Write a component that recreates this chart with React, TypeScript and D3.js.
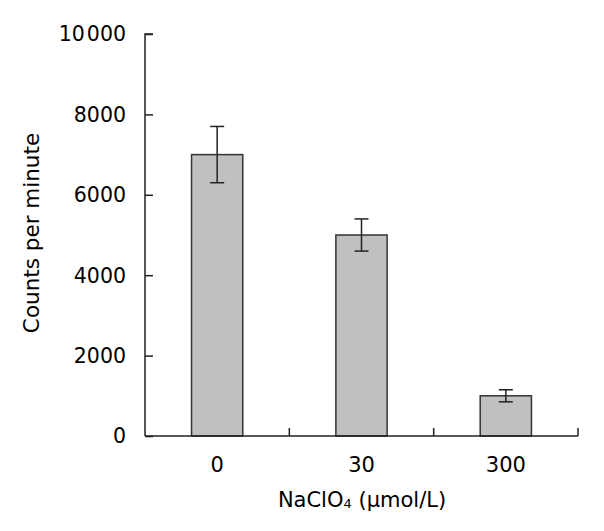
import React, { useRef, useEffect } from 'react';
import * as d3 from 'd3';

const categories = ['0', '30', '300'];
const counts = [7000, 5000, 1000];
const errors = [700, 400, 150];
const yTicks = [0, 2000, 4000, 6000, 8000, 10000];

const W = 604;
const H = 531;
const margin = { top: 34, right: 26, bottom: 95, left: 145 };
const font = '"DejaVu Sans", Tahoma, sans-serif';

export default function App() {
  const ref = useRef<SVGSVGElement>(null);

  useEffect(() => {
    const svg = d3.select(ref.current);
    svg.selectAll('*').remove();
    const iw = W - margin.left - margin.right;
    const ih = H - margin.top - margin.bottom;
    const g = svg.append('g').attr('transform', `translate(${margin.left},${margin.top})`);

    // scales
    const x = d3.scaleBand().domain(categories).range([0, iw]).paddingInner(0.645).paddingOuter(0.3225);
    const y = d3.scaleLinear().domain([0, 10000]).range([ih, 0]);

    // bars
    g.append('g')
      .selectAll('rect')
      .data(counts)
      .join('rect')
      .attr('x', (d, i) => x(categories[i])!)
      .attr('y', d => y(d))
      .attr('width', x.bandwidth())
      .attr('height', d => y(0) - y(d))
      .attr('fill', '#c0c0c0')
      .attr('stroke', '#333')
      .attr('stroke-width', 1.5);

    // error bars
    const eb = g.append('g').attr('stroke', '#222').attr('stroke-width', 1.5);
    counts.forEach((d, i) => {
      const cx = x(categories[i])! + x.bandwidth() / 2;
      eb.append('line').attr('x1', cx).attr('x2', cx).attr('y1', y(d + errors[i])).attr('y2', y(d - errors[i]));
      [d + errors[i], d - errors[i]].forEach(v => {
        eb.append('line').attr('x1', cx - 7).attr('x2', cx + 7).attr('y1', y(v)).attr('y2', y(v));
      });
    });

    // y axis, ticks pointing inward
    const ya = g.append('g').call(d3.axisRight(y).tickValues(yTicks).tickSize(8).tickFormat(() => ''));
    ya.selectAll('line, path').attr('stroke', '#222').attr('stroke-width', 1.5);
    ya.select('.domain').attr('d', `M8,0H0V${ih}`);
    const yl = g.append('g')
      .selectAll('text')
      .data(yTicks)
      .join('text')
      .attr('x', -19)
      .attr('y', d => y(d))
      .attr('dy', '0.36em')
      .attr('text-anchor', 'end')
      .style('font-family', font)
      .style('font-size', '20.5px');
    yl.each(function (d) {
      const t = d3.select(this);
      if (d >= 10000) {
        t.append('tspan').text('10');
        t.append('tspan').attr('dx', 2).text('000');
      } else t.text(String(d));
    });

    // x axis with inward ticks at category boundaries
    g.append('line').attr('x1', 0).attr('x2', iw).attr('y1', ih).attr('y2', ih)
      .attr('stroke', '#222').attr('stroke-width', 1.5);
    const step = x.step();
    g.append('g')
      .selectAll('line')
      .data(d3.range(1, categories.length + 1))
      .join('line')
      .attr('x1', i => x(categories[0])! - x.paddingOuter() * step + i * step)
      .attr('x2', i => x(categories[0])! - x.paddingOuter() * step + i * step)
      .attr('y1', ih)
      .attr('y2', ih - 8)
      .attr('stroke', '#222')
      .attr('stroke-width', 1.5);
    g.append('g')
      .selectAll('text')
      .data(categories)
      .join('text')
      .attr('x', d => x(d)! + x.bandwidth() / 2)
      .attr('y', 472 - margin.top)
      .attr('text-anchor', 'middle')
      .style('font-family', font)
      .style('font-size', '21px')
      .text(d => d);

    // axis titles
    const xt = svg.append('text')
      .attr('x', 362)
      .attr('y', 507)
      .attr('text-anchor', 'middle')
      .style('font-family', font)
      .style('font-size', '21px');
    xt.append('tspan').text('NaClO');
    xt.append('tspan').attr('font-size', '13px').attr('dy', 1).text('4');
    xt.append('tspan').attr('dy', -1).text(' (\u03bcmol/L)');

    svg.append('text')
      .attr('transform', `translate(39,233) rotate(-90)`)
      .attr('text-anchor', 'middle')
      .style('font-family', font)
      .style('font-size', '21.5px')
      .text('Counts per minute');
  }, []);

  return (
    <div style={{ position: 'absolute', left: 0, top: 0 }}>
      <svg ref={ref} width={W} height={H} style={{ display: 'block', background: '#fff' }}></svg>
    </div>
  );
}
